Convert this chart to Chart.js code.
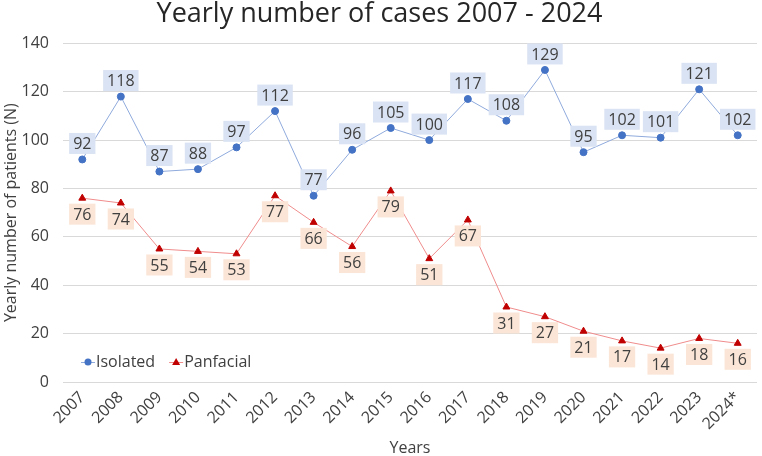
<!DOCTYPE html>
<html>
<head>
<meta charset="utf-8">
<script src="https://cdn.jsdelivr.net/npm/chart.js@4/dist/chart.umd.min.js"></script>
<style>
  html, body { margin: 0; padding: 0; background: #ffffff; }
  #wrap { width: 762px; height: 456px; position: relative; }
</style>
</head>
<body>
<div id="wrap"><canvas id="c" width="762" height="456"></canvas></div>
<script>
const categories = ['2007','2008','2009','2010','2011','2012','2013','2014','2015','2016','2017','2018','2019','2020','2021','2022','2023','2024*'];
const isolated = [92,118,87,88,97,112,77,96,105,100,117,108,129,95,102,101,121,102];
const panfacial = [76,74,55,54,53,77,66,56,79,51,67,31,27,21,17,14,18,16];
const yTickValues = [0,20,40,60,80,100,120,140];
const seriesNames = ['Isolated','Panfacial'];
const titleText = 'Yearly number of cases 2007 - 2024';
const yTitle = 'Yearly number of patients (N)';
const xTitle = 'Years';

const FONT = '"Open Sans", Lato, sans-serif';
const TXT = '#404040';

const labelPlugin = {
  id: 'valueLabels',
  afterDatasetsDraw(chart) {
    const ctx = chart.ctx;
    ctx.save();
    ctx.font = '16px ' + FONT;
    ctx.textAlign = 'center';
    ctx.textBaseline = 'middle';
    chart.data.datasets.forEach((ds, i) => {
      const meta = chart.getDatasetMeta(i);
      meta.data.forEach((pt, j) => {
        const t = String(ds.data[j]);
        const w = ctx.measureText(t).width + 8;
        const h = 21;
        const cx = pt.x, cy = pt.y + ds.labelDy;
        ctx.fillStyle = ds.labelBg;
        ctx.fillRect(cx - w / 2, cy - h / 2, w, h);
        ctx.fillStyle = TXT;
        ctx.fillText(t, cx, cy + 1);
      });
    });
    ctx.restore();
  }
};

const legendPlugin = {
  id: 'innerLegend',
  afterDraw(chart) {
    const ctx = chart.ctx;
    const y = 362;
    ctx.save();
    ctx.font = '16px ' + FONT;
    ctx.textBaseline = 'middle';
    ctx.textAlign = 'left';
    let x = 81;
    chart.data.datasets.forEach((ds) => {
      ctx.strokeStyle = ds.borderColor;
      ctx.lineWidth = 1;
      ctx.beginPath(); ctx.moveTo(x, y + 0.5); ctx.lineTo(x + 14, y + 0.5); ctx.stroke();
      ctx.fillStyle = ds.pointBackgroundColor;
      ctx.beginPath();
      const r = ds.pointRadius;
      if (ds.pointStyle === 'circle') { ctx.arc(x + 7, y, r, 0, Math.PI * 2); }
      else { ctx.moveTo(x + 7, y - r); ctx.lineTo(x + 7 + r, y + r * 0.75); ctx.lineTo(x + 7 - r, y + r * 0.75); ctx.closePath(); }
      ctx.fill();
      ctx.fillStyle = TXT;
      ctx.fillText(ds.label, x + 15, y);
      x += 15 + ctx.measureText(ds.label).width + 14;
    });
    ctx.restore();
  }
};

new Chart(document.getElementById('c'), {
  type: 'line',
  data: {
    labels: categories,
    datasets: [
      {
        label: seriesNames[0], data: isolated,
        borderColor: '#8FAADC', borderWidth: 1,
        pointStyle: 'circle', pointRadius: 3.5,
        pointBackgroundColor: '#4472C4', pointBorderColor: '#4472C4', pointBorderWidth: 1,
        labelDy: -16, labelBg: '#DAE3F3', tension: 0
      },
      {
        label: seriesNames[1], data: panfacial,
        borderColor: '#F08C8C', borderWidth: 1,
        pointStyle: 'triangle', pointRadius: 4,
        pointBackgroundColor: '#C00000', pointBorderColor: '#C00000', pointBorderWidth: 1,
        labelDy: 16, labelBg: '#FBE5D6', tension: 0
      }
    ]
  },
  options: {
    responsive: false,
    animation: false,
    devicePixelRatio: 1,
    layout: { padding: { left: 0, right: 3, top: 0, bottom: 0 } },
    plugins: {
      legend: { display: false },
      tooltip: { enabled: false },
      title: {
        display: true, text: titleText, color: '#262626',
        font: { family: FONT, size: 27, weight: 'normal', lineHeight: 1.05 },
        padding: { top: 0, bottom: 15 }
      }
    },
    scales: {
      x: {
        offset: true,
        grid: { display: false, drawTicks: false, offset: true },
        border: { display: false },
        ticks: { color: TXT, font: { family: FONT, size: 16 }, maxRotation: 45, minRotation: 45, padding: 6, autoSkip: false },
        title: { display: true, text: xTitle, color: TXT, font: { family: FONT, size: 16, lineHeight: 1 }, padding: { top: 0, bottom: 0 } },
        afterFit(scale) { scale.height = 74; }
      },
      y: {
        min: 0, max: 140,
        afterBuildTicks(scale) { scale.ticks = yTickValues.map(v => ({ value: v })); },
        grid: { color: '#D9D9D9', lineWidth: 1, drawTicks: false },
        border: { display: false },
        ticks: { color: TXT, font: { family: FONT, size: 16 }, padding: 14 },
        title: { display: true, text: yTitle, color: TXT, font: { family: FONT, size: 16, lineHeight: 1.2 }, padding: { top: 2, bottom: 0 } },
        afterFit(scale) { scale.width = 63; }
      }
    }
  },
  plugins: [labelPlugin, legendPlugin]
});
</script>
</body>
</html>
